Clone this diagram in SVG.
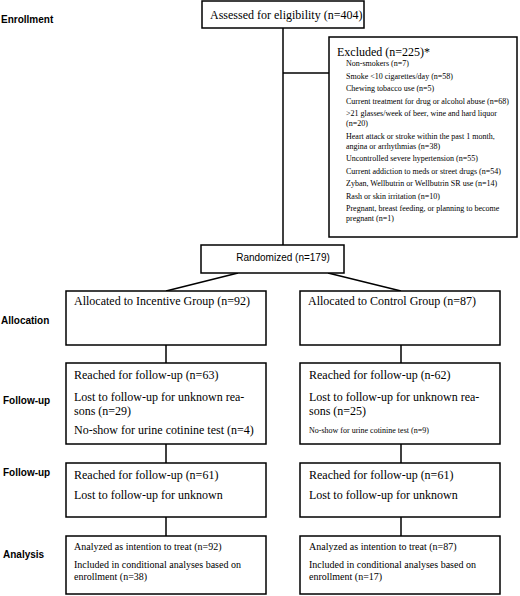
<svg xmlns="http://www.w3.org/2000/svg" width="520" height="596" viewBox="0 0 520 596">
<style>
.box{fill:#fff;stroke:#000;stroke-width:1.5}
.ln{fill:none;stroke:#000;stroke-width:1.5}
.lab{font-family:"Liberation Sans",Arial,sans-serif;font-weight:bold;font-size:10px;fill:#000}
.s{font-family:"Liberation Serif","Times New Roman",serif;font-size:12px;fill:#000}
.m{font-family:"Liberation Serif","Times New Roman",serif;font-size:10px;fill:#000}
.xs{font-family:"Liberation Serif","Times New Roman",serif;font-size:8px;fill:#000}
.sans{font-family:"Liberation Sans",Arial,sans-serif;font-size:10px;fill:#000}
</style>
<rect width="520" height="596" fill="#fff"/>
<g id="labels">
<text class="lab" x="1" y="23">Enrollment</text>
<text class="lab" x="1" y="323.5">Allocation</text>
<text class="lab" x="3" y="403.5">Follow-up</text>
<text class="lab" x="3" y="476">Follow-up</text>
<text class="lab" x="3" y="557.5">Analysis</text>
</g>
<g id="connectors">
<line class="ln" x1="283" y1="28" x2="283" y2="245"/>
<line class="ln" x1="283" y1="73" x2="329" y2="73"/>
<line class="ln" x1="238" y1="273" x2="166" y2="291"/>
<line class="ln" x1="328" y1="273" x2="401" y2="291"/>
<line class="ln" x1="166" y1="345" x2="166" y2="363"/>
<line class="ln" x1="401" y1="345" x2="401" y2="363"/>
<line class="ln" x1="166" y1="444" x2="166" y2="463"/>
<line class="ln" x1="401" y1="444" x2="401" y2="463"/>
<line class="ln" x1="166" y1="517" x2="166" y2="536"/>
<line class="ln" x1="401" y1="517" x2="401" y2="536"/>
</g>
<g id="assessed">
<rect class="box" x="202" y="1" width="162" height="27"/>
<text class="s" x="210" y="19">Assessed for eligibility (n=404)</text>
</g>
<g id="excluded">
<rect class="box" x="329" y="37" width="188" height="200"/>
<text class="s" x="337" y="56">Excluded (n=225)*</text>
<text class="xs" x="346" y="66">Non-smokers (n=7)</text>
<text class="xs" x="346" y="78.5">Smoke &lt;10 cigarettes/day (n=58)</text>
<text class="xs" x="346" y="91">Chewing tobacco use (n=5)</text>
<text class="xs" x="346" y="103.5">Current treatment for drug or alcohol abuse (n=68)</text>
<text class="xs" x="346" y="116">&gt;21 glasses/week of beer, wine and hard liquor</text>
<text class="xs" x="346" y="126">(n=20)</text>
<text class="xs" x="346" y="138.5">Heart attack or stroke within the past 1 month,</text>
<text class="xs" x="346" y="148.5">angina or arrhythmias (n=38)</text>
<text class="xs" x="346" y="161">Uncontrolled severe hypertension (n=55)</text>
<text class="xs" x="346" y="173.5">Current addiction to meds or street drugs (n=54)</text>
<text class="xs" x="346" y="186">Zyban, Wellbutrin or Wellbutrin SR use (n=14)</text>
<text class="xs" x="346" y="198.5">Rash or skin irritation (n=10)</text>
<text class="xs" x="346" y="211">Pregnant, breast feeding, or planning to become</text>
<text class="xs" x="346" y="221">pregnant (n=1)</text>
</g>
<g id="randomized">
<rect class="box" x="201" y="245" width="143" height="28"/>
<text class="sans" x="283" y="260.5" text-anchor="middle">Randomized (n=179)</text>
</g>
<g id="alloc-incentive">
<rect class="box" x="66" y="291" width="200" height="54"/>
<text class="s" x="74" y="305">Allocated to Incentive Group (n=92)</text>
</g>
<g id="alloc-control">
<rect class="box" x="300" y="291" width="200" height="54"/>
<text class="s" x="308" y="305">Allocated to Control Group (n=87)</text>
</g>
<g id="fu1-incentive">
<rect class="box" x="66" y="363" width="200" height="81"/>
<text class="s" x="74" y="379">Reached for follow-up (n=63)</text>
<text class="s" x="74" y="401">Lost to follow-up for unknown rea-</text>
<text class="s" x="74" y="415">sons (n=29)</text>
<text class="s" x="74" y="433.5">No-show for urine cotinine test (n=4)</text>
</g>
<g id="fu1-control">
<rect class="box" x="300" y="363" width="200" height="81"/>
<text class="s" x="309" y="379">Reached for follow-up (n-62)</text>
<text class="s" x="309" y="401">Lost to follow-up for unknown rea-</text>
<text class="s" x="309" y="415">sons (n=25)</text>
<text class="xs" x="309" y="433">No-show for urine cotinine test (n=9)</text>
</g>
<g id="fu2-incentive">
<rect class="box" x="66" y="463" width="200" height="54"/>
<text class="s" x="74" y="479">Reached for follow-up (n=61)</text>
<text class="s" x="74" y="498.5">Lost to follow-up for unknown</text>
</g>
<g id="fu2-control">
<rect class="box" x="300" y="463" width="200" height="54"/>
<text class="s" x="309" y="479">Reached for follow-up (n=61)</text>
<text class="s" x="309" y="498.5">Lost to follow-up for unknown</text>
</g>
<g id="analysis-incentive">
<rect class="box" x="66" y="536" width="200" height="58"/>
<text class="m" x="74" y="549.5">Analyzed as intention to treat (n=92)</text>
<text class="m" x="74" y="567.5">Included in conditional analyses based on</text>
<text class="m" x="74" y="579.5">enrollment (n=38)</text>
</g>
<g id="analysis-control">
<rect class="box" x="300" y="536" width="200" height="58"/>
<text class="m" x="309" y="549.5">Analyzed as intention to treat (n=87)</text>
<text class="m" x="309" y="567.5">Included in conditional analyses based on</text>
<text class="m" x="309" y="579.5">enrollment (n=17)</text>
</g>
</svg>
